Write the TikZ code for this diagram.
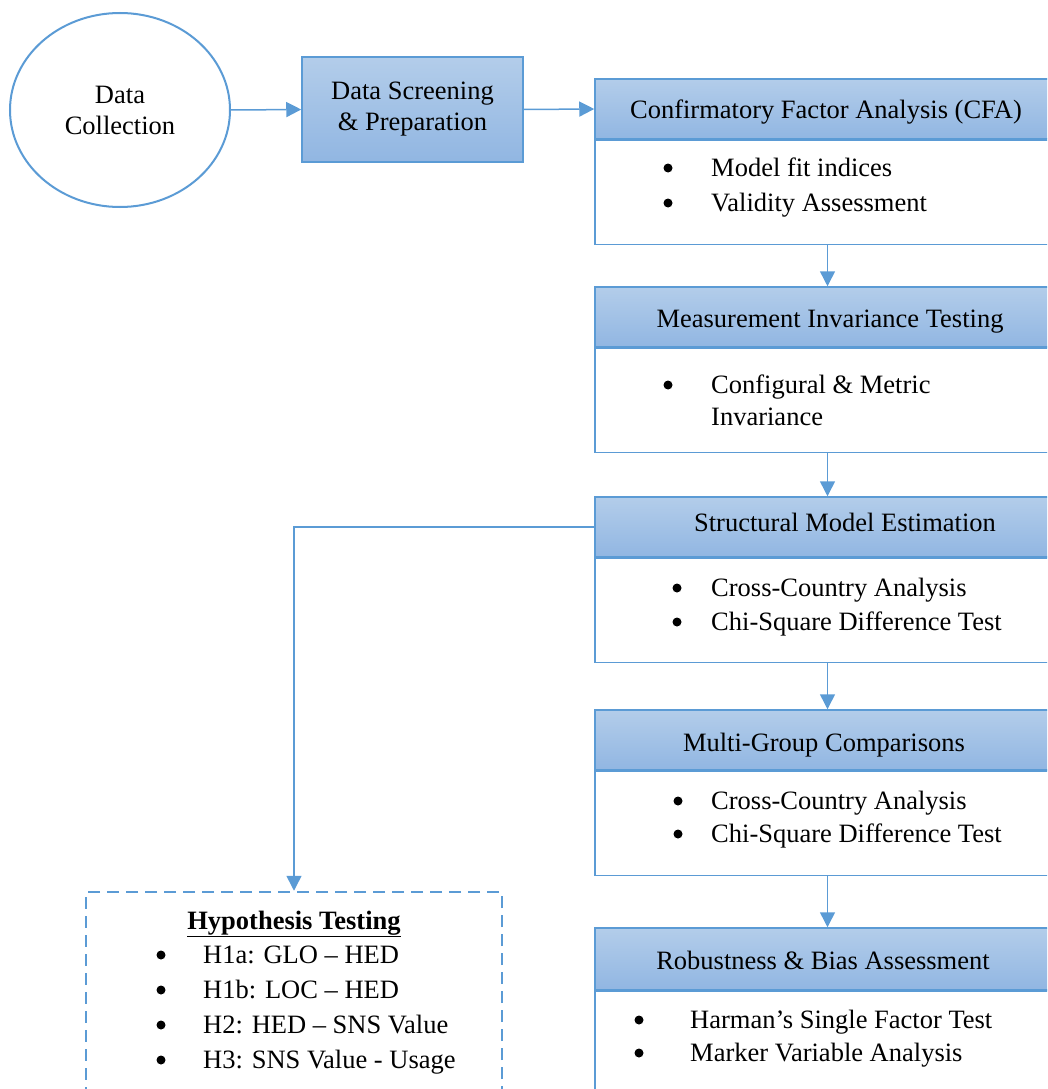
\documentclass[tikz,border=0pt]{standalone}
\usepackage{fontspec}
\setmainfont{Liberation Serif}
\usetikzlibrary{shapes,arrows.meta,calc,positioning}

\definecolor{msblue}{HTML}{5B9BD5}
\definecolor{hdtop}{HTML}{B3CDEA}
\definecolor{hdbot}{HTML}{91B6E2}

\tikzset{
  txt/.style={font=\fontsize{26.5}{31}\selectfont, inner sep=0pt},
  oval/.style={ellipse, draw=msblue, line width=2pt, minimum width=220pt, minimum height=194pt, align=center, txt},
  prep/.style={rectangle, draw=msblue, line width=1.5pt, top color=hdtop, bottom color=hdbot, minimum width=221pt, minimum height=105pt, align=center, txt},
  hdr/.style={rectangle, draw=msblue, line width=1.5pt, top color=hdtop, bottom color=hdbot, minimum width=465pt, minimum height=60pt},
  body/.style={rectangle, draw=msblue, line width=1.5pt, fill=white, minimum width=465pt, minimum height=104pt},
  hyp/.style={rectangle, draw=msblue, line width=2.5pt, dash pattern=on 12pt off 7pt, minimum width=416pt, minimum height=208pt},
  title/.style={txt, text height=18pt, text depth=0pt},
  itm/.style={txt, anchor=west, text height=18pt, text depth=0pt},
  bul/.style={circle, fill=black, inner sep=0pt, minimum size=9pt},
  conn/.style={draw=msblue, line width=1.5pt, -{Triangle[length=15pt,width=15pt]}}
}

% bullet item: name, bullet x, text x, y, text
\newcommand{\bitem}[5]{%
  \node[bul] (#1b) at (#2,#4+1) {};
  \node[itm] (#1) at (#3,#4) {#5};}

\begin{document}
\begin{tikzpicture}[x=1pt, y=-1pt]
  \useasboundingbox (0,0) rectangle (1047,1089);
  \clip (0,0) rectangle (1047,1089);

  \node[oval] (dc) at (120,110) {Data\\Collection};
  \node[prep] (dsp) at (412.5,109.5) {Data Screening\\\& Preparation};

  % stage boxes, cut by the right edge
  \node[hdr] (cfa) at (827.5,109) {};
  \node[body, below=0pt of cfa] (cfab) {};
  \node[hdr] (mit) at (827.5,317) {};
  \node[body, below=0pt of mit] (mitb) {};
  \node[hdr] (sme) at (827.5,527) {};
  \node[body, below=0pt of sme] (smeb) {};
  \node[hdr] (mgc) at (827.5,740) {};
  \node[body, below=0pt of mgc] (mgcb) {};
  \node[hdr, minimum height=62pt] (rba) at (827.5,959) {};
  \node[body, below=0pt of rba, minimum height=120pt] (rbab) {};

  \node[hyp] (hyp) at (294,996) {};

  % titles
  \node[title] (cfat) at (826,110) {Confirmatory Factor Analysis (CFA)};
  \node[title] (mitt) at (830,318) {Measurement Invariance Testing};
  \node[title] (smet) at (845,522) {Structural Model Estimation};
  \node[title] (mgct) at (824,742) {Multi-Group Comparisons};
  \node[title] (rbat) at (823,960) {Robustness \& Bias Assessment};
  \node[title] (hypt) at (294,920) {\underline{\textbf{Hypothesis Testing}}};

  % bullet lists
  \bitem{cfa1}{668}{711}{167}{Model fit indices}
  \bitem{cfa2}{668}{711}{202}{Validity Assessment}
  \bitem{mit1}{668}{711}{384}{Configural \& Metric}
  \node[itm] (mit2) at (711,416) {Invariance};
  \bitem{sme1}{677}{711}{587}{Cross-Country Analysis}
  \bitem{sme2}{677}{711}{621}{Chi-Square Difference Test}
  \bitem{mgc1}{678}{711}{800}{Cross-Country Analysis}
  \bitem{mgc2}{678}{711}{833}{Chi-Square Difference Test}
  \bitem{rba1}{639}{690}{1019}{Harman’s Single Factor Test}
  \bitem{rba2}{639}{690}{1052}{Marker Variable Analysis}
  \bitem{hyp1}{161}{203}{954}{H1a: GLO – HED}
  \bitem{hyp2}{161}{203}{989}{H1b: LOC – HED}
  \bitem{hyp3}{161}{203}{1024}{H2: HED – SNS Value}
  \bitem{hyp4}{161}{203}{1059}{H3: SNS Value - Usage}

  % connectors
  \draw[conn] (dc.east) -- (dsp.west);
  \draw[conn] (dsp.east) -- (cfa.west);
  \draw[conn] (cfab.south) -- (mit.north);
  \draw[conn] (mitb.south) -- (sme.north);
  \draw[conn] (smeb.south) -- (mgc.north);
  \draw[conn] (mgcb.south) -- (rba.north);
  \draw[conn] (sme.west) -| (hyp.north);
\end{tikzpicture}
\end{document}
